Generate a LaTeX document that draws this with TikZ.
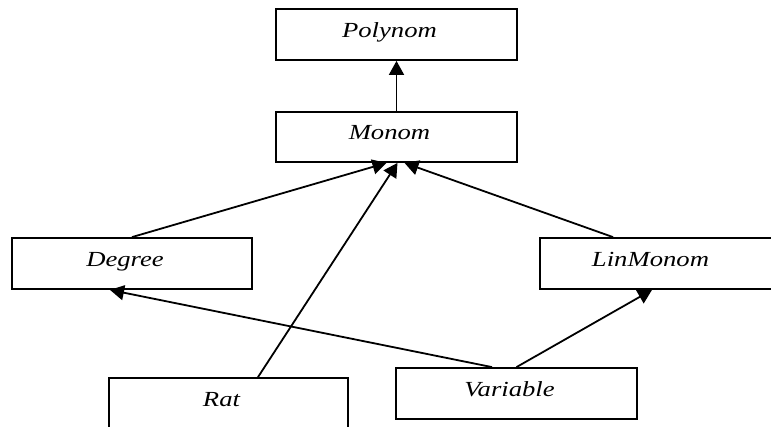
\documentclass[tikz,border=0pt]{standalone}
\usepackage{fontspec}
\setmainfont{Liberation Serif}
\usetikzlibrary{arrows.meta}
\newcommand{\clsname}[1]{\hspace*{-14pt}\scalebox{1.24}[1]{\itshape #1}}
\begin{document}
\begin{tikzpicture}[x=1pt,y=-1pt,
  cls/.style={draw, line width=1.8pt, minimum width=241pt, minimum height=51pt,
    inner sep=0pt, text height=14pt, text depth=9pt,
    font=\fontsize{21.5}{21.5}\selectfont},
  inh/.style={line width=1.8pt, -{Triangle[length=14pt,width=15pt]}}]
  \useasboundingbox (0,0) rectangle (771,426);
  \clip (0,0) rectangle (771,426);

  % class boxes
  \node[cls] (poly) at (396.5,34.5) {\clsname{Polynom}};
  \node[cls, minimum height=50pt] (monom) at (396.5,137) {\clsname{Monom}};
  \node[cls, minimum width=240pt] (deg) at (132,263.5) {\clsname{Degree}};
  \node[cls, minimum width=235pt] (lin) at (657.5,263.5) {\clsname{LinMonom}};
  \node[cls] (var) at (516.5,393.5) {\clsname{Variable}};
  \node[cls, minimum width=239pt] (rat) at (228.5,403.5) {\clsname{Rat}};

  % inheritance arrows
  \draw[inh] (monom.north) -- (poly.south);
  \draw[inh] (deg.north) -- ([xshift=-10pt]monom.south);
  \draw[inh] ([xshift=29.5pt]rat.north) -- ([xshift=1pt]monom.south);
  \draw[inh] ([xshift=-44.5pt]lin.north) -- ([xshift=8pt]monom.south);
  \draw[inh] ([xshift=-24.5pt]var.north) -- ([xshift=-22pt]deg.south);
  \draw[inh] (var.north) -- ([xshift=-5.5pt]lin.south);
\end{tikzpicture}
\end{document}
